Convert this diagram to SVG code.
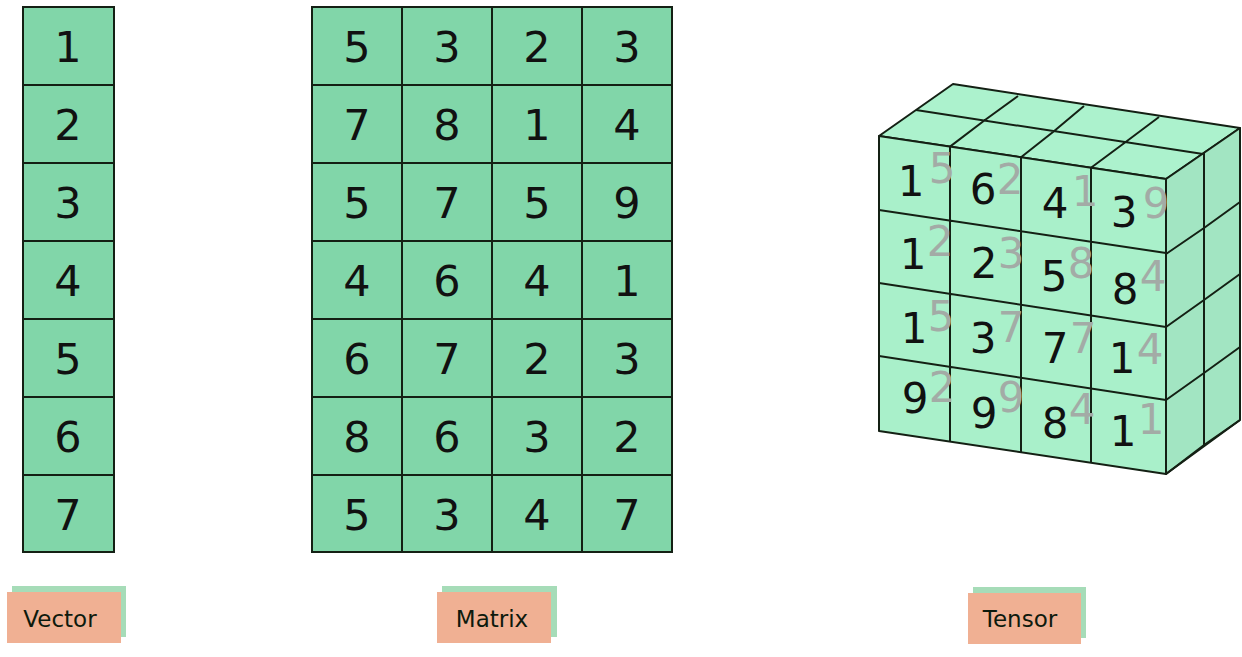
<svg xmlns="http://www.w3.org/2000/svg" width="1242" height="657" viewBox="0 0 1242 657">
<style>
.cell{fill:#81d6a9;stroke:#142014;stroke-width:2}
.d{font-family:"DejaVu Sans",sans-serif;font-size:43px;fill:#111;text-anchor:middle}
.t{font-size:42px}
.g{font-family:"DejaVu Sans",sans-serif;font-size:42px;fill:#a3aba6;text-anchor:middle}
.ln{fill:none;stroke:#142014;stroke-width:2;stroke-linejoin:round}
.lab{fill:#f0b093}
.sh{fill:#a6dcb8}
.lt{font-family:"DejaVu Sans",sans-serif;font-size:23px;fill:#0d1a0d;text-anchor:middle}
</style>
<rect width="1242" height="657" fill="#fff"/>
<g id="vector">
<rect class="cell" x="23" y="7" width="91" height="78"/>
<rect class="cell" x="23" y="85" width="91" height="78"/>
<rect class="cell" x="23" y="163" width="91" height="78"/>
<rect class="cell" x="23" y="241" width="91" height="78"/>
<rect class="cell" x="23" y="319" width="91" height="78"/>
<rect class="cell" x="23" y="397" width="91" height="78"/>
<rect class="cell" x="23" y="475" width="91" height="77"/>
<text class="d" x="68" y="62">1</text>
<text class="d" x="68" y="140">2</text>
<text class="d" x="68" y="218">3</text>
<text class="d" x="68" y="296">4</text>
<text class="d" x="68" y="374">5</text>
<text class="d" x="68" y="452">6</text>
<text class="d" x="68" y="530">7</text>
</g>
<g id="matrix">
<rect class="cell" x="312" y="7" width="360" height="545"/>
<path class="ln" d="M402 7V552M492 7V552M582 7V552M312 85H672M312 163H672M312 241H672M312 319H672M312 397H672M312 475H672"/>
<g>
<text class="d" x="357" y="62">5</text><text class="d" x="447" y="62">3</text><text class="d" x="537" y="62">2</text><text class="d" x="627" y="62">3</text>
<text class="d" x="357" y="140">7</text><text class="d" x="447" y="140">8</text><text class="d" x="537" y="140">1</text><text class="d" x="627" y="140">4</text>
<text class="d" x="357" y="218">5</text><text class="d" x="447" y="218">7</text><text class="d" x="537" y="218">5</text><text class="d" x="627" y="218">9</text>
<text class="d" x="357" y="296">4</text><text class="d" x="447" y="296">6</text><text class="d" x="537" y="296">4</text><text class="d" x="627" y="296">1</text>
<text class="d" x="357" y="374">6</text><text class="d" x="447" y="374">7</text><text class="d" x="537" y="374">2</text><text class="d" x="627" y="374">3</text>
<text class="d" x="357" y="452">8</text><text class="d" x="447" y="452">6</text><text class="d" x="537" y="452">3</text><text class="d" x="627" y="452">2</text>
<text class="d" x="357" y="530">5</text><text class="d" x="447" y="530">3</text><text class="d" x="537" y="530">4</text><text class="d" x="627" y="530">7</text>
</g>
</g>
<g id="tensor">
<polygon points="879,136 953,84 1240,128 1166,179" fill="#acf2cd" stroke="#142014" stroke-width="2" stroke-linejoin="round"/>
<polygon points="1166,179 1240,128 1240,420 1166,474" fill="#a2e5c2" stroke="#142014" stroke-width="2" stroke-linejoin="round"/>
<polygon points="879,136 1166,179 1166,474 879,431" fill="#a9f0ca" stroke="#142014" stroke-width="2" stroke-linejoin="round"/>
<path class="ln" d="M916 110L1203 154M950 146.6L985 120L1018 96M1021 157.3L1053 132L1084 106M1091 167.8L1127 141L1159 117"/>
<path class="ln" d="M1204 153V445M1166 254L1204 228L1240 202M1166 327L1204 300L1240 274M1166 400L1204 373L1240 347M1166 474L1204 445L1240 420"/>
<path class="ln" d="M950 146.6V441.6M1021 157.3V452.3M1091 167.8V462.8M879 210L1166 253M879 283L1166 327M879 356L1166 400"/>
<g>
<text class="g" x="942" y="183">5</text><text class="g" x="1010" y="194">2</text><text class="g" x="1085" y="206">1</text><text class="g" x="1156" y="218">9</text>
<text class="g" x="940" y="256">2</text><text class="g" x="1011" y="268">3</text><text class="g" x="1081" y="278">8</text><text class="g" x="1153" y="291">4</text>
<text class="g" x="941" y="331">5</text><text class="g" x="1011" y="342">7</text><text class="g" x="1083" y="353">7</text><text class="g" x="1150" y="364">4</text>
<text class="g" x="942" y="402">2</text><text class="g" x="1011" y="412">9</text><text class="g" x="1082" y="424">4</text><text class="g" x="1151" y="434">1</text>
</g>
<g>
<text class="d t" x="911" y="196">1</text><text class="d t" x="983" y="204">6</text><text class="d t" x="1055" y="218">4</text><text class="d t" x="1124" y="227">3</text>
<text class="d t" x="913" y="269">1</text><text class="d t" x="984" y="278">2</text><text class="d t" x="1054" y="291">5</text><text class="d t" x="1125" y="304">8</text>
<text class="d t" x="914" y="343">1</text><text class="d t" x="983" y="353">3</text><text class="d t" x="1055" y="363">7</text><text class="d t" x="1122" y="373">1</text>
<text class="d t" x="915" y="413">9</text><text class="d t" x="984" y="428">9</text><text class="d t" x="1055" y="438">8</text><text class="d t" x="1123" y="446">1</text>
</g>
</g>
<g id="label-vector">
<rect class="sh" x="12" y="586" width="114" height="51"/>
<rect class="lab" x="7" y="592" width="114" height="51"/>
<text class="lt" x="60" y="627">Vector</text>
</g>
<g id="label-matrix">
<rect class="sh" x="442" y="586" width="115" height="51"/>
<rect class="lab" x="437" y="592" width="114" height="51"/>
<text class="lt" x="492" y="627">Matrix</text>
</g>
<g id="label-tensor">
<rect class="sh" x="973" y="587" width="113" height="51"/>
<rect class="lab" x="968" y="593" width="113" height="51"/>
<text class="lt" x="1020" y="627">Tensor</text>
</g>
</svg>
